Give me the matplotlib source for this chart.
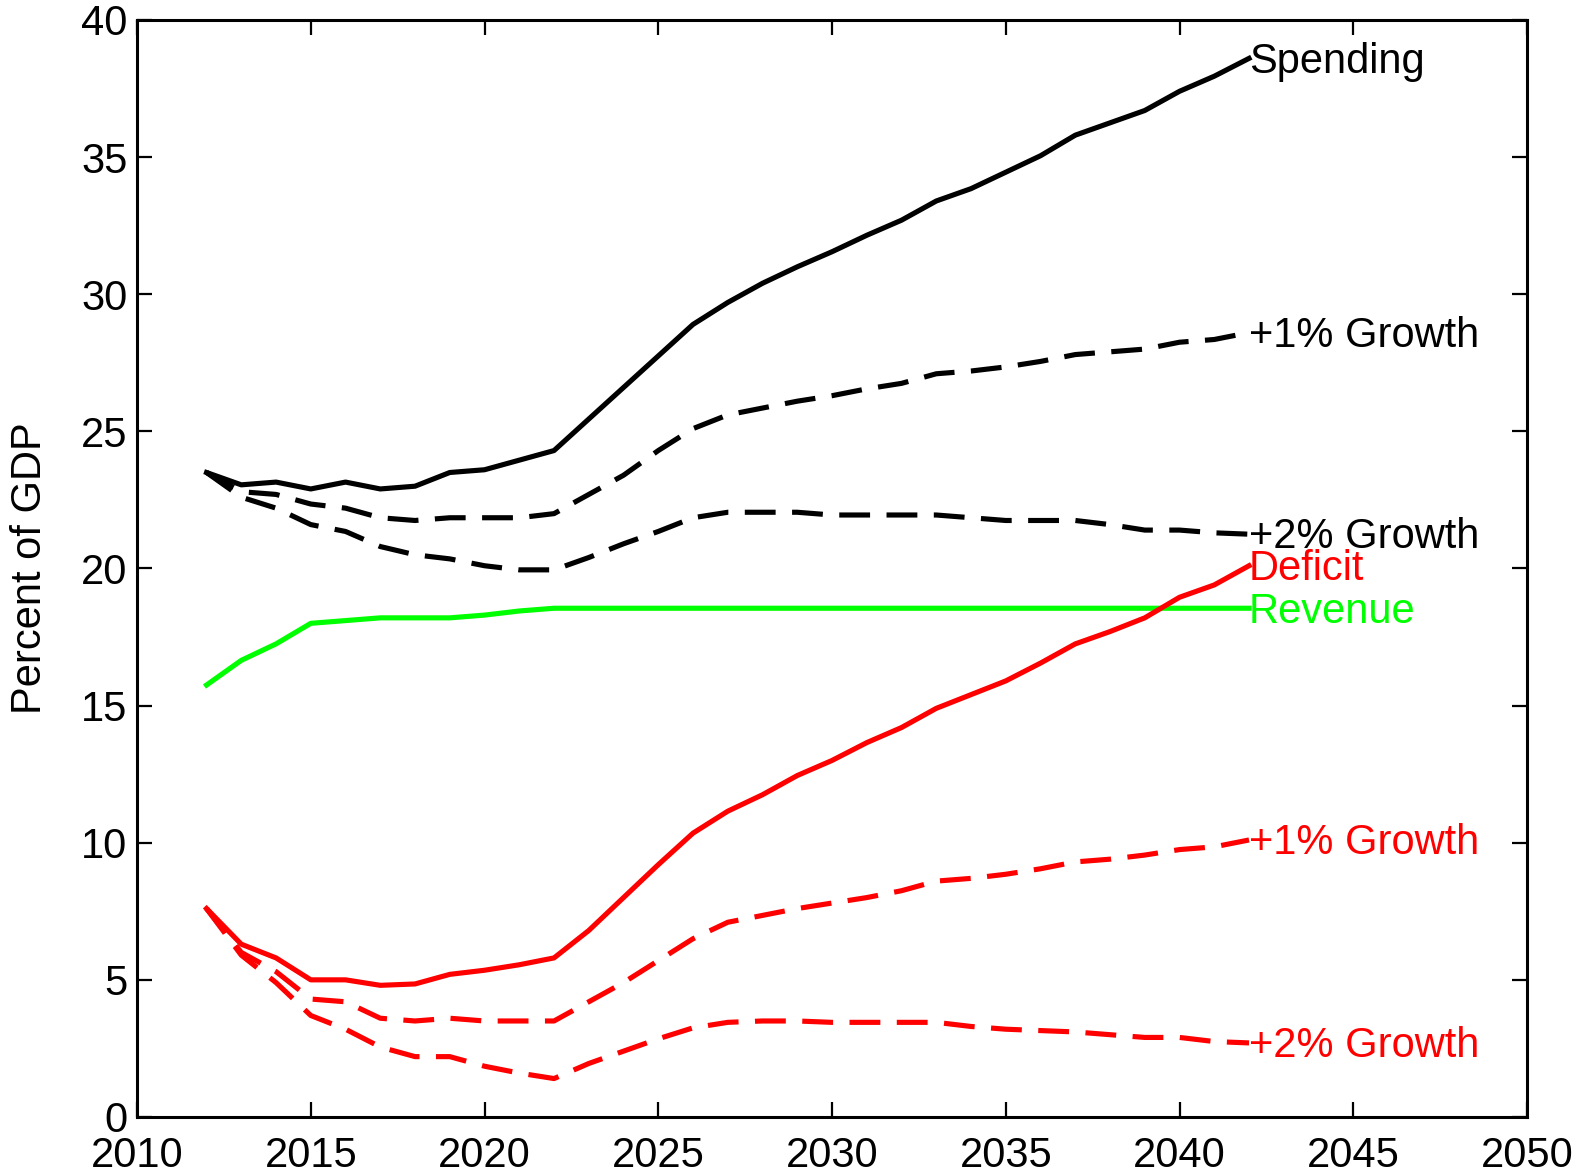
import matplotlib
matplotlib.use('Agg')
import matplotlib.pyplot as plt
import numpy as np

plt.rcParams['font.family'] = ['Liberation Sans', 'DejaVu Sans']

years = np.arange(2012, 2043)

spending = [23.5, 23.05, 23.15, 22.9, 23.15, 22.9, 23.0, 23.5, 23.6, 23.95, 24.3,
            25.45, 26.6, 27.75, 28.9, 29.7, 30.4, 31.0, 31.55, 32.15, 32.7,
            33.4, 33.85, 34.45, 35.05, 35.8, 36.25, 36.7, 37.4, 37.95, 38.6]
spending_1 = [23.5, 22.8, 22.7, 22.35, 22.2, 21.85, 21.75, 21.85, 21.85, 21.85, 22.0,
              22.7, 23.4, 24.3, 25.1, 25.6, 25.85, 26.1, 26.3, 26.55, 26.75,
              27.1, 27.2, 27.35, 27.55, 27.8, 27.9, 28.0, 28.25, 28.35, 28.6]
spending_2 = [23.5, 22.6, 22.2, 21.6, 21.35, 20.8, 20.5, 20.35, 20.1, 19.95, 19.95,
              20.4, 20.9, 21.35, 21.85, 22.05, 22.05, 22.05, 21.95, 21.95, 21.95,
              21.95, 21.85, 21.75, 21.75, 21.75, 21.6, 21.4, 21.4, 21.3, 21.25]
revenue = [15.75, 16.65, 17.25, 18.0, 18.1, 18.2, 18.2, 18.2, 18.3, 18.45, 18.55,
           18.55, 18.55, 18.55, 18.55, 18.55, 18.55, 18.55, 18.55, 18.55, 18.55,
           18.55, 18.55, 18.55, 18.55, 18.55, 18.55, 18.55, 18.55, 18.55, 18.55]
deficit = [7.6, 6.3, 5.8, 5.0, 5.0, 4.8, 4.85, 5.2, 5.35, 5.55, 5.8,
           6.8, 8.0, 9.2, 10.35, 11.15, 11.75, 12.45, 13.0, 13.65, 14.2,
           14.9, 15.4, 15.9, 16.55, 17.25, 17.7, 18.2, 18.95, 19.4, 20.1]
deficit_1 = [7.6, 6.0, 5.3, 4.3, 4.2, 3.6, 3.5, 3.6, 3.5, 3.5, 3.5,
             4.2, 4.9, 5.7, 6.5, 7.1, 7.35, 7.6, 7.8, 8.0, 8.25,
             8.6, 8.7, 8.85, 9.05, 9.3, 9.4, 9.55, 9.75, 9.85, 10.1]
deficit_2 = [7.6, 5.9, 4.9, 3.7, 3.2, 2.55, 2.2, 2.2, 1.85, 1.6, 1.4,
             1.95, 2.4, 2.85, 3.25, 3.45, 3.5, 3.5, 3.45, 3.45, 3.45,
             3.45, 3.3, 3.2, 3.15, 3.1, 3.0, 2.9, 2.9, 2.75, 2.7]

fig = plt.figure(figsize=(15.88, 11.76), dpi=100)
ax = fig.add_axes([0.0863, 0.0502, 0.8753, 0.9328])

lw = 3.7
dash = (6, 3.2)
ax.plot(years, spending, color='black', lw=lw)
ax.plot(years, spending_1, color='black', lw=lw, dashes=dash)
ax.plot(years, spending_2, color='black', lw=lw, dashes=dash)
ax.plot(years, revenue, color='#00ff00', lw=lw)
ax.plot(years, deficit, color='#ff0000', lw=lw)
ax.plot(years, deficit_1, color='#ff0000', lw=lw, dashes=dash)
ax.plot(years, deficit_2, color='#ff0000', lw=lw, dashes=dash)

fs = 30
x_end = years[-1]
dy = 0.12
ax.text(x_end, spending[-1] - dy, 'Spending', fontsize=fs, va='center', ha='left')
ax.text(x_end, spending_1[-1] - dy, '+1% Growth', fontsize=fs, va='center', ha='left')
ax.text(x_end, spending_2[-1] - dy, '+2% Growth', fontsize=fs, va='center', ha='left')
ax.text(x_end, deficit[-1] - dy, 'Deficit', fontsize=fs, va='center', ha='left', color='#ff0000')
ax.text(x_end, revenue[-1] - dy, 'Revenue', fontsize=fs, va='center', ha='left', color='#00ff00')
ax.text(x_end, deficit_1[-1] - dy, '+1% Growth', fontsize=fs, va='center', ha='left', color='#ff0000')
ax.text(x_end, deficit_2[-1] - dy, '+2% Growth', fontsize=fs, va='center', ha='left', color='#ff0000')

ax.set_xlim(2010, 2050)
ax.set_ylim(0, 40)
ax.set_xticks(np.arange(2010, 2051, 5))
ax.set_yticks(np.arange(0, 41, 5))
ax.tick_params(direction='in', length=11, width=1.6, labelsize=fs,
               top=True, right=True)
ax.tick_params(axis='x', pad=14)
ax.tick_params(axis='y', pad=7)
for s in ax.spines.values():
    s.set_linewidth(2.2)
ax.set_ylabel('Percent of GDP', fontsize=fs, labelpad=22)

fig.savefig('out.png', dpi=100)
